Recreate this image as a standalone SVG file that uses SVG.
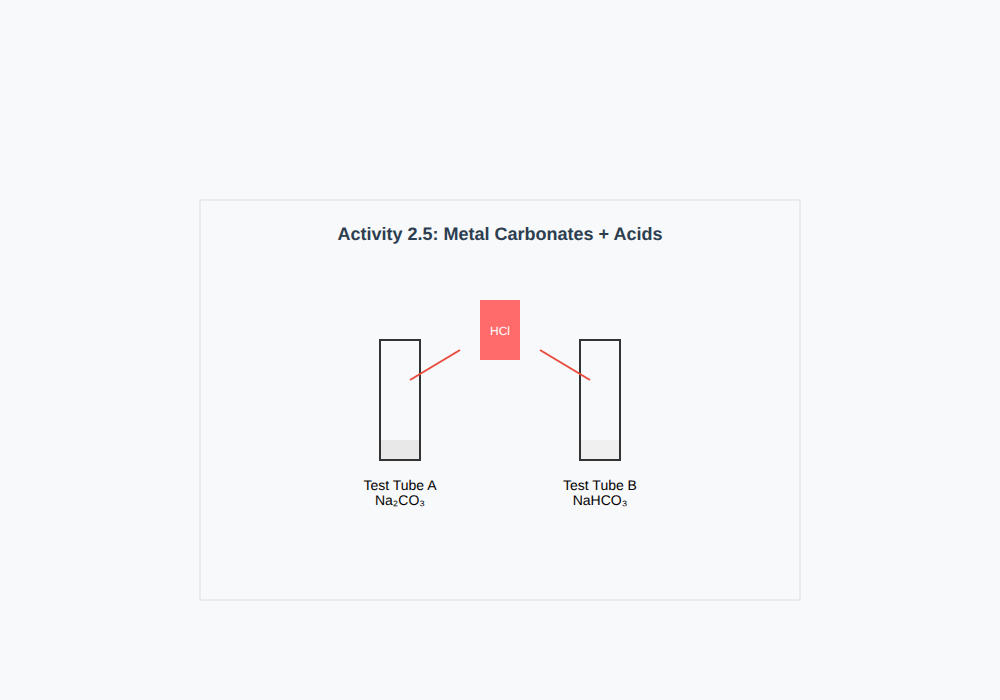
<svg xmlns="http://www.w3.org/2000/svg" width="1000" height="700" viewBox="0 0 1000 700">
<style>
text{font-family:"Liberation Sans","DejaVu Sans",sans-serif;text-anchor:middle;text-rendering:geometricPrecision}
.tube{fill:none;stroke:#333;stroke-width:2}
.lbl{font-size:14px;fill:#000}
.conn{stroke:#e74c3c;stroke-width:2;fill:none}
</style>
<rect width="1000" height="700" fill="#f8f9fa"/>
<rect x="200" y="200" width="600" height="400" fill="#f8f9fa" stroke="#ddd" stroke-width="1"/>
<text x="500" y="240" font-size="18" font-weight="bold" fill="#2c3e50">Activity 2.5: Metal Carbonates + Acids</text>
<g id="tube-a">
<rect x="381" y="440" width="38" height="19" fill="#e8e8e8"/>
<rect class="tube" x="380" y="340" width="40" height="120"/>
<text class="lbl" x="400" y="490">Test Tube A</text>
<text class="lbl" x="400" y="505">Na₂CO₃</text>
</g>
<g id="tube-b">
<rect x="581" y="440" width="38" height="19" fill="#f0f0f0"/>
<rect class="tube" x="580" y="340" width="40" height="120"/>
<text class="lbl" x="600" y="490">Test Tube B</text>
<text class="lbl" x="600" y="505">NaHCO₃</text>
</g>
<g id="hcl">
<rect x="480" y="300" width="40" height="60" fill="#ff6b6b"/>
<text x="500" y="335" font-size="12" fill="#fff">HCl</text>
</g>
<g id="connectors">
<line class="conn" x1="460" y1="350" x2="410" y2="380"/>
<line class="conn" x1="540" y1="350" x2="590" y2="380"/>
</g>
</svg>
